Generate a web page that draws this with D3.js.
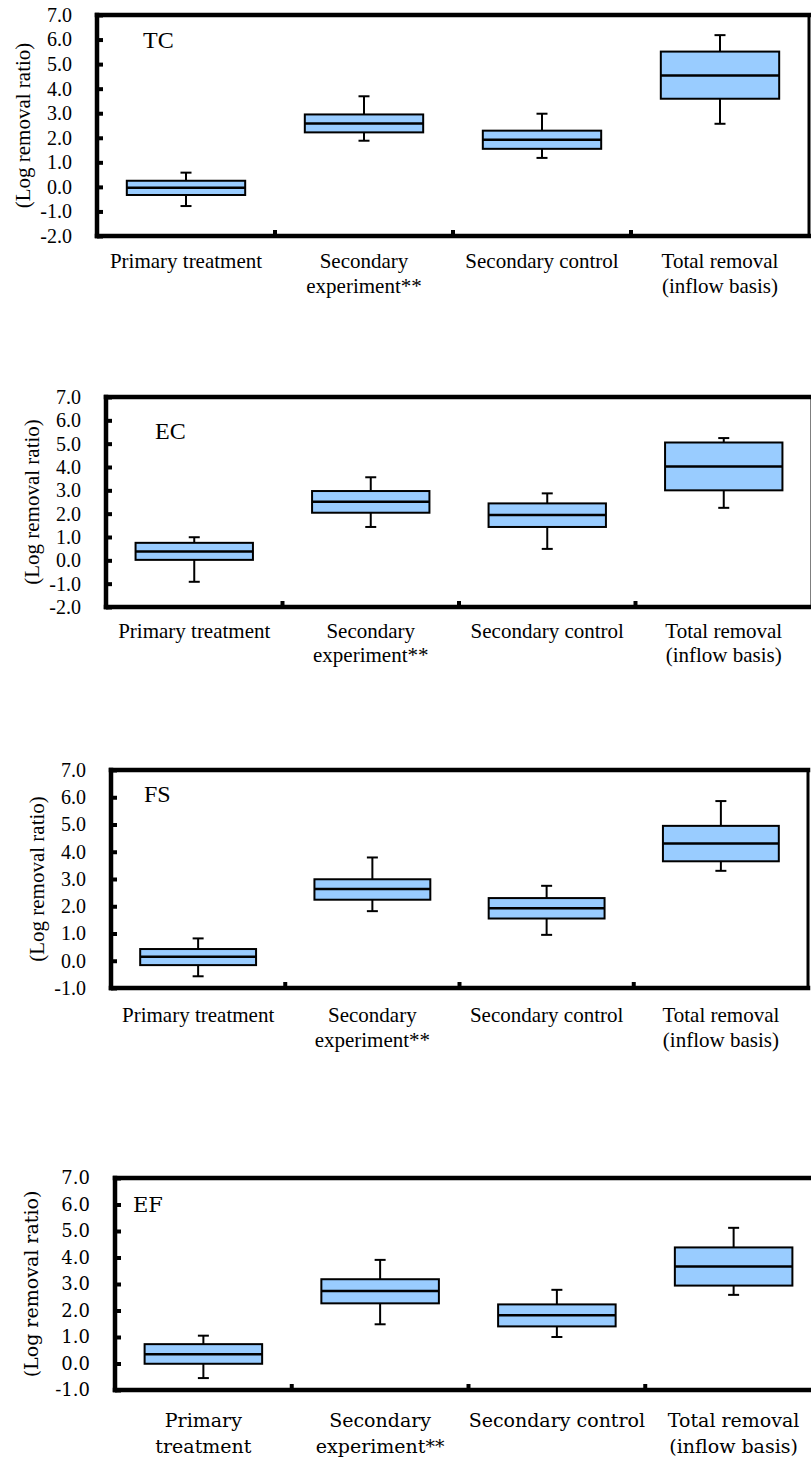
<!DOCTYPE html>
<html>
<head>
<meta charset="utf-8">
<script src="https://cdn.jsdelivr.net/npm/d3@7"></script>
<style>
  html, body { margin: 0; padding: 0; background: #fff; }
  svg { display: block; }
</style>
</head>
<body>
<div id="chart"></div>
<script>
// categories and their label lines
const categories = ['Primary treatment', 'Secondary experiment**', 'Secondary control', 'Total removal (inflow basis)'];
const labelLines = [['Primary treatment'], ['Secondary', 'experiment**'], ['Secondary control'], ['Total removal', '(inflow basis)']];
const labelLinesEF = [['Primary', 'treatment'], ['Secondary', 'experiment**'], ['Secondary control'], ['Total removal', '(inflow basis)']];

// [min, q1, median, q3, max] per category
const tcStats = [[-0.78, -0.33, -0.03, 0.25, 0.58], [1.88, 2.22, 2.58, 2.95, 3.69], [1.18, 1.55, 1.92, 2.29, 2.98], [2.57, 3.59, 4.54, 5.51, 6.18]];
const ecStats = [[-0.92, 0.02, 0.38, 0.75, 0.99], [1.43, 2.04, 2.51, 2.97, 3.56], [0.49, 1.43, 1.94, 2.44, 2.87], [2.25, 3.0, 4.02, 5.05, 5.24]];
const fsStats = [[-0.57, -0.16, 0.15, 0.43, 0.82], [1.82, 2.24, 2.63, 2.99, 3.79], [0.95, 1.55, 1.93, 2.30, 2.75], [3.30, 3.65, 4.30, 4.95, 5.86]];
const efStats = [[-0.55, -0.01, 0.35, 0.73, 1.05], [1.48, 2.27, 2.74, 3.18, 3.91], [1.0, 1.40, 1.82, 2.23, 2.78], [2.59, 2.94, 3.66, 4.38, 5.12]];

// y tick values
const yTicksFromM2 = [-2, -1, 0, 1, 2, 3, 4, 5, 6, 7];
const yTicksFromM1 = [-1, 0, 1, 2, 3, 4, 5, 6, 7];

const yTitle = '(Log removal ratio)';

const W = 811, H = 1457;
const times = '"Liberation Serif", "Times New Roman", serif';
const century = '"DejaVu Serif", serif';

const panels = [
    { name: 'TC', stats: tcStats, ticks: yTicksFromM2, lines: labelLines, left: 97, top: 15, right: 809, bottom: 236,
      font: times, tickSize: 20, catSize: 21, titleSize: 24, yTitleSize: 21, titleDx: 46, titleDy: 33, labelDy: 32, lineH: 25, yTitleX: 23 },
    { name: 'EC', stats: ecStats, ticks: yTicksFromM2, lines: labelLines, left: 106, top: 397, right: 812, bottom: 607,
      font: times, tickSize: 20, catSize: 21, titleSize: 24, yTitleSize: 21, titleDx: 49, titleDy: 42, labelDy: 31, lineH: 24, yTitleX: 32 },
    { name: 'FS', stats: fsStats, ticks: yTicksFromM1, lines: labelLines, left: 111, top: 770, right: 808, bottom: 988,
      font: times, tickSize: 20, catSize: 21, titleSize: 24, yTitleSize: 21, titleDx: 33, titleDy: 32, labelDy: 34, lineH: 25, yTitleX: 37 },
    { name: 'EF', stats: efStats, ticks: yTicksFromM1, lines: labelLinesEF, left: 115, top: 1178, right: 822, bottom: 1390,
      font: century, tickSize: 18, catSize: 19, titleSize: 21, yTitleSize: 19, titleDx: 18, titleDy: 34, labelDy: 37, lineH: 26, yTitleX: 31 }
];

const fmt = d => d3.format('.1f')(d).replace('\u2212', '-');

const svg = d3.select('#chart')
    .append('svg')
    .attr('width', W)
    .attr('height', H)
    .attr('viewBox', `0 0 ${W} ${H}`);

panels.forEach(drawPanel);

function drawPanel(p) {
    const g = svg.append('g').style('font-family', p.font);

    const x = d3.scaleBand()
        .domain(categories)
        .range([p.left, p.right])
        .paddingInner(0.335)
        .paddingOuter(0.1675);

    const y = d3.scaleLinear()
        .domain(d3.extent(p.ticks))
        .range([p.bottom, p.top]);

    // left axis: inward ticks, labels outside
    const yAxis = g.append('g')
        .attr('transform', `translate(${p.left},0)`)
        .call(d3.axisLeft(y)
            .tickValues(p.ticks)
            .tickSize(-6)
            .tickPadding(25)
            .tickFormat(fmt));
    yAxis.select('.domain').remove();
    yAxis.selectAll('.tick line').attr('stroke', '#000').attr('stroke-width', 4);
    yAxis.selectAll('.tick text')
        .attr('fill', '#000')
        .style('font-family', p.font)
        .style('font-size', p.tickSize + 'px');

    // boundary ticks on the bottom axis
    g.append('g')
        .selectAll('line')
        .data(categories.slice(1))
        .enter()
        .append('line')
        .attr('x1', d => x(d) + x.bandwidth() / 2 - x.step() / 2)
        .attr('x2', d => x(d) + x.bandwidth() / 2 - x.step() / 2)
        .attr('y1', p.bottom)
        .attr('y2', p.bottom - 6)
        .attr('stroke', '#000')
        .attr('stroke-width', 4);

    // boxes
    const cap = 11;
    const box = g.append('g')
        .selectAll('g')
        .data(p.stats.map((s, i) => ({ cat: categories[i], s: s })))
        .enter()
        .append('g');

    const cx = d => x(d.cat) + x.bandwidth() / 2;

    box.append('line')
        .attr('x1', cx).attr('x2', cx)
        .attr('y1', d => y(d.s[4])).attr('y2', d => y(d.s[0]))
        .attr('stroke', '#000').attr('stroke-width', 2);

    box.selectAll('.cap')
        .data(d => [d.s[0], d.s[4]].map(v => ({ cat: d.cat, v: v })))
        .enter()
        .append('line')
        .attr('x1', d => cx(d) - cap / 2).attr('x2', d => cx(d) + cap / 2)
        .attr('y1', d => y(d.v)).attr('y2', d => y(d.v))
        .attr('stroke', '#000').attr('stroke-width', 2);

    box.append('rect')
        .attr('x', d => x(d.cat))
        .attr('width', x.bandwidth())
        .attr('y', d => y(d.s[3]))
        .attr('height', d => y(d.s[1]) - y(d.s[3]))
        .attr('fill', '#99ccff')
        .attr('stroke', '#000')
        .attr('stroke-width', 2);

    box.append('line')
        .attr('x1', d => x(d.cat)).attr('x2', d => x(d.cat) + x.bandwidth())
        .attr('y1', d => y(d.s[2])).attr('y2', d => y(d.s[2]))
        .attr('stroke', '#000').attr('stroke-width', 2.5);

    // frame
    const frame = [
        [p.left, p.top, p.left, p.bottom, 4.5],
        [p.left, p.bottom, p.right, p.bottom, 4.5],
        [p.left, p.top, p.right, p.top, 4.5],
        [p.right, p.top, p.right, p.bottom, 3]
    ];
    g.append('g')
        .selectAll('line')
        .data(frame)
        .enter()
        .append('line')
        .attr('x1', d => d[0]).attr('y1', d => d[1])
        .attr('x2', d => d[2]).attr('y2', d => d[3])
        .attr('stroke', '#000')
        .attr('stroke-width', d => d[4])
        .attr('stroke-linecap', 'square');

    // category labels
    g.append('g')
        .selectAll('text')
        .data(categories)
        .enter()
        .append('text')
        .attr('text-anchor', 'middle')
        .style('font-size', p.catSize + 'px')
        .attr('fill', '#000')
        .each(function (d, i) {
            d3.select(this)
                .selectAll('tspan')
                .data(p.lines[i])
                .enter()
                .append('tspan')
                .attr('x', x(d) + x.bandwidth() / 2)
                .attr('y', (t, j) => p.bottom + p.labelDy + j * p.lineH)
                .text(t => t);
        });

    // panel name
    g.append('text')
        .attr('x', p.left + p.titleDx)
        .attr('y', p.top + p.titleDy)
        .style('font-size', p.titleSize + 'px')
        .text(p.name);

    // y title
    g.append('text')
        .attr('transform', `translate(${p.yTitleX},${(p.top + p.bottom) / 2}) rotate(-90)`)
        .attr('text-anchor', 'middle')
        .attr('dy', '0.35em')
        .style('font-size', p.yTitleSize + 'px')
        .text(yTitle);
}
</script>
</body>
</html>
